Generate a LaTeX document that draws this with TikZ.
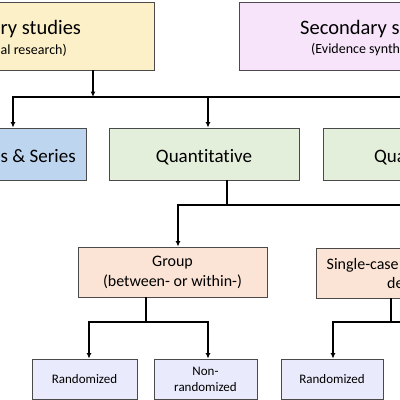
\documentclass[tikz,border=0pt]{standalone}
\usepackage{fontspec}
\setmainfont{Carlito}[Ligatures={NoCommon}]
\usetikzlibrary{arrows.meta}
\definecolor{boxline}{HTML}{4A4A4A}
\definecolor{primfill}{HTML}{FCF0C8}
\definecolor{secfill}{HTML}{F7E4FA}
\definecolor{casefill}{HTML}{BDD5EE}
\definecolor{quantfill}{HTML}{E3EFDA}
\definecolor{groupfill}{HTML}{FBE4D5}
\definecolor{leaffill}{HTML}{E9EAFB}
\begin{document}
\begin{tikzpicture}[x=1pt, y=-1pt,
    box/.style={draw=boxline, line width=0.8pt, inner sep=0pt},
    edgetext/.style={inner sep=0pt},
    conn/.style={line width=1.3pt},
    arr/.style={conn, -{Latex[length=5.5pt,width=5pt]}},
    titletext/.style={font=\fontsize{20.5}{24}\selectfont},
    subtext/.style={font=\fontsize{14}{17}\selectfont},
    midtext/.style={font=\fontsize{19}{22}\selectfont},
    grouptext/.style={font=\fontsize{16}{20}\selectfont, align=center},
    leaftext/.style={font=\fontsize{13}{16}\selectfont, align=center},
]
    \useasboundingbox (0,0) rectangle (400,400);
    \clip (0,0) rectangle (400,400);

    % top row
    \node[box, fill=primfill, minimum width=194, minimum height=68] (prim) at (57,36) {};
    \node[box, fill=secfill, minimum width=200, minimum height=68] (sec) at (339,36) {};
    \node[edgetext, titletext, anchor=base west] (primtitle) at (0.5,34) {ry studies};
    \node[edgetext, subtext, anchor=base west] (primsub) at (0.5,54) {al research)};
    \node[edgetext, titletext, anchor=base west] (sectitle) at (300,34) {Secondary s};
    \node[edgetext, subtext, anchor=base west] (secsub) at (311,53) {(Evidence synth};

    % second row
    \node[box, fill=casefill, minimum width=126, minimum height=52] (cases) at (23,154) {};
    \node[edgetext, midtext, anchor=base west] (casestxt) at (0.5,162) {s \& Series};
    \node[box, fill=quantfill, minimum width=190, minimum height=52] (quant) at (204,154) {};
    \node[edgetext, midtext, anchor=base] (quanttxt) at (quant.center |- 0,162) {Quantitative};
    \node[box, fill=quantfill, minimum width=120, minimum height=52] (qual) at (383,154) {};
    \node[edgetext, midtext, anchor=base west] (qualtxt) at (374,162) {Qua};

    % third row
    \node[box, fill=groupfill, minimum width=189, minimum height=50, grouptext] (group) at (172.5,272) {Group\\(between- or within-)};
    \node[box, fill=groupfill, minimum width=120, minimum height=50] (single) at (376,273) {};
    \node[edgetext, grouptext, anchor=base west] (singletxt) at (326.5,269) {Single-case};
    \node[edgetext, grouptext, anchor=base west] (singletxtb) at (387,288) {de};

    % leaves
    \node[box, fill=leaffill, minimum width=105, minimum height=40, leaftext] (rand) at (84.5,379) {Randomized};
    \node[box, fill=leaffill, minimum width=103, minimum height=40, leaftext] (nonrand) at (205.5,379) {Non-\\randomized};
    \node[box, fill=leaffill, minimum width=102, minimum height=40, leaftext] (srand) at (332,379) {Randomized};

    % junctions
    \coordinate (primsplit) at (93,97);
    \coordinate (casesin) at (13,97);
    \coordinate (quantin) at (208,97);
    \coordinate (rowright) at (420,97);
    \coordinate (quantout) at (227,205);
    \coordinate (groupin) at (178,205);
    \coordinate (quantright) at (420,205);
    \coordinate (groupout) at (146,322);
    \coordinate (randin) at (89,322);
    \coordinate (nonin) at (208,322);
    \coordinate (singleout) at (391,322);
    \coordinate (srandin) at (333,322);
    \coordinate (singleright) at (420,322);

    % connectors
    \draw[arr] (prim.south -| primsplit) -- (primsplit);
    \draw[arr] (rowright) -- (casesin) -- (casesin |- cases.north);
    \draw[arr] (quantin) -- (quantin |- quant.north);

    \draw[conn] (quant.south -| quantout) -- (quantout);
    \draw[arr] (quantright) -- (groupin) -- (groupin |- group.north);

    \draw[conn] (group.south -| groupout) -- (groupout);
    \draw[arr] (groupout) -- (randin) -- (randin |- rand.north);
    \draw[arr] (groupout) -- (nonin) -- (nonin |- nonrand.north);

    \draw[conn] (single.south -| singleout) -- (singleout);
    \draw[arr] (singleright) -- (srandin) -- (srandin |- srand.north);
\end{tikzpicture}
\end{document}
